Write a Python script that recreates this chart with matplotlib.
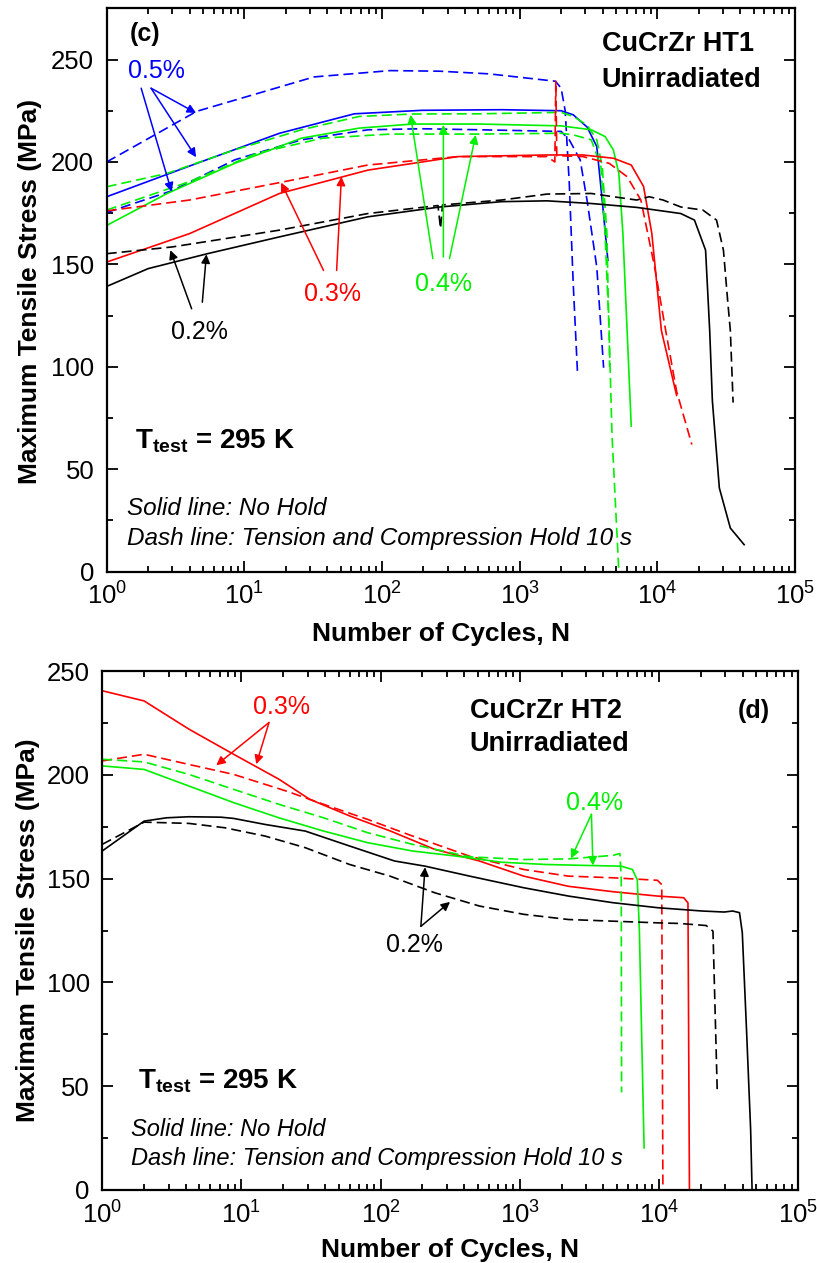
import matplotlib
matplotlib.use("Agg")
import matplotlib.pyplot as plt
from matplotlib.ticker import LogLocator, MultipleLocator, NullFormatter

plt.rcParams['font.family'] = ['Liberation Sans', 'DejaVu Sans']
plt.rcParams['mathtext.fontset'] = 'custom'
plt.rcParams['mathtext.rm'] = 'Liberation Sans'
plt.rcParams['mathtext.it'] = 'Liberation Sans:italic'
plt.rcParams['mathtext.bf'] = 'Liberation Sans:bold'

BLUE = '#0000ff'
RED = '#ff0000'
GREEN = '#00f000'
BLACK = '#000000'

# ---- panel (c): CuCrZr HT1 ----
c_blue_dash1_N = [1, 4.5, 32, 115, 263, 600, 1820, 2000, 2140, 2290, 2450, 2630]
c_blue_dash1_S = [200, 224.7, 241.5, 244.6, 244.3, 243, 239.4, 236, 225, 190, 140, 97]
c_blue_solid_N = [1, 4, 18, 63, 195, 740, 2000, 2450, 3090, 3630, 3980, 4370]
c_blue_solid_S = [183, 198, 214, 223.5, 225.2, 225.5, 225, 223, 217, 207.5, 181, 152]
c_blue_dash2_N = [1, 3, 8.5, 26, 79, 195, 510, 2000, 2290, 2750, 3090, 3630, 4070]
c_blue_dash2_S = [175.3, 186, 201, 210.8, 215.7, 216.2, 215.7, 214.9, 210.8, 201, 181, 148.7, 99.5]
c_green_dash1_N = [1, 2.75, 8.5, 26, 68, 166, 510, 2000, 2450, 3090, 3630, 3980, 4300, 4400, 4680, 5250]
c_green_dash1_S = [187.9, 194.4, 205.9, 215.7, 222.2, 223.4, 223.5, 224.2, 222.2, 218, 210.8, 197.7, 165, 132, 67, 0]
c_green_dash2_N = [1, 4, 12.3, 37, 115, 480, 2000, 2450, 3310, 3890, 4170, 4470, 4500]
c_green_dash2_S = [176.5, 190.4, 204.2, 211.6, 213.6, 213.6, 214, 213.2, 210.8, 197.7, 165, 117, 100]
c_green_solid_N = [1, 2.75, 8.5, 26, 68, 166, 510, 2000, 3310, 4170, 4790, 5250, 5620, 6030, 6460]
c_green_solid_S = [169, 184.6, 199.3, 211.6, 216.5, 218.5, 218.5, 217.6, 215.7, 212.4, 205.9, 194.4, 165, 117.6, 71]
c_red_dash_N = [1, 4, 18, 79, 355, 1580, 1800, 1830, 1860, 2000, 2880, 4470, 6030, 7590, 9550, 11500, 13800, 17800]
c_red_dash_S = [176.1, 181.4, 189.9, 198.5, 202.6, 202.6, 200, 239.4, 203, 203, 202.6, 199.3, 192.8, 181.4, 148.7, 117.6, 88, 62]
c_red_solid_N = [1, 4, 18, 79, 355, 1580, 2880, 4790, 6460, 7940, 9120, 10700, 13800]
c_red_solid_S = [151.1, 165, 184.6, 196, 202.6, 203.4, 203.4, 201.8, 198.5, 188, 165, 117.6, 86]
c_black_dash_N = [1, 3, 18, 79, 255, 266, 275, 740, 1580, 3310, 4790, 7080, 8710, 11000, 14800, 21400, 26900,
                  30200, 32400, 33900, 35500]
c_black_dash_S = [155.2, 158.5, 166.7, 174.8, 178.7, 167.5, 179, 181.4, 184.3, 184.6, 183, 181.4, 183, 181.4, 178,
                  176.5, 171.6, 156.9, 132.4, 117.6, 82.5]
c_black_solid_N = [1, 2, 5.4, 18, 79, 263, 740, 1580, 3310, 7080, 14800, 18600, 22400, 24000, 25100, 28200, 33900, 42700]
c_black_solid_S = [139.2, 147.9, 155.2, 163.4, 173.2, 178, 180.6, 181, 179.7, 177.8, 174.8, 171.6, 156.9, 117.6, 83.3, 40.8, 21.2, 13.1]

# ---- panel (d): CuCrZr HT2 ----
d_red_solid_N = [1, 2, 4.2, 8.8, 18.6, 31, 60, 117, 245, 513, 1070, 2240, 4680, 9770, 15100, 16200, 16600]
d_red_solid_S = [240.5, 235.6, 222, 209.9, 197.9, 188.2, 180.2, 173, 164.1, 158.5, 151.2, 146.3, 143.7, 141.6, 140.8, 138.3, 0]
d_red_dash_N = [1, 2, 4.2, 8.8, 21, 39, 81, 170, 437, 1070, 2240, 4680, 9770, 10500, 10700]
d_red_dash_S = [206.7, 209.9, 205, 200.2, 192.2, 185.8, 178.5, 170.5, 160.8, 154.4, 151.2, 150.4, 149.2, 147.1, 0]
d_green_solid_N = [1, 2, 4.2, 8.8, 18.6, 39, 81, 170, 355, 741, 1550, 3240, 5370, 6460, 7000, 7250, 7840]
d_green_solid_S = [204.3, 202.6, 194.6, 186.6, 179.3, 172.9, 167.3, 163.3, 160.8, 157.9, 156.8, 156.3, 156, 154.4, 149.5, 125, 20.3]
d_green_dash_N = [1, 2, 4.2, 8.8, 18.6, 39, 81, 170, 437, 1070, 2240, 4680, 5250, 5370, 5400]
d_green_dash_S = [207.5, 206.2, 200.2, 193, 185.8, 179.3, 172.1, 166.5, 160.5, 159.2, 159.5, 161.2, 162.1, 150, 47]
d_black_solid_N = [1, 2, 2.9, 4.2, 7.1, 8.8, 14.8, 28.8, 60, 126, 209, 437, 1070, 2240, 4680, 9770,
                   20400, 29500, 33900, 38000, 39800, 42700, 45700, 46800]
d_black_solid_S = [163.3, 177.7, 179.3, 179.8, 179.6, 179, 176.1, 172.9, 165.7, 158.5, 156, 151.2, 145.6, 141.6, 138.4, 136,
                   134.4, 133.9, 134.4, 133.6, 124, 77, 29, 0]
d_black_dash_N = [1, 2, 2.9, 4.2, 7.6, 14.8, 28.8, 60, 117, 245, 513, 1070, 2240, 4680, 9770, 14100, 21900, 24500, 26300]
d_black_dash_S = [166.5, 177.2, 176.9, 176.6, 174.5, 170.5, 164.9, 156.8, 151.2, 143.2, 136.8, 132.8, 130.3, 129.5, 128.7,
                  128.4, 127.4, 124.7, 47.5]

DASH = (6, 3)


def setup_axes(ax, ymax, ylabel, xlab_xy, ylab_xy):
    ax.set_xscale('log')
    ax.set_xlim(1, 1e5)
    ax.set_ylim(0, ymax)
    ax.xaxis.set_major_locator(LogLocator(base=10, numticks=10))
    ax.xaxis.set_minor_locator(LogLocator(base=10, subs=range(2, 10), numticks=20))
    ax.xaxis.set_minor_formatter(NullFormatter())
    ax.yaxis.set_major_locator(MultipleLocator(50))
    ax.yaxis.set_minor_locator(MultipleLocator(25))
    ax.tick_params(which='both', direction='in', top=True, right=True, labelsize=18.5, width=1.3)
    ax.tick_params(which='major', length=8)
    ax.tick_params(which='minor', length=4)
    ax.tick_params(axis='x', which='major', pad=8)
    ax.tick_params(axis='y', which='major', pad=9)
    for s in ax.spines.values():
        s.set_linewidth(1.6)
    ax.set_xlabel('Number of Cycles, N', fontsize=19, fontweight='bold')
    ax.set_ylabel(ylabel, fontsize=19, fontweight='bold')
    ax.xaxis.set_label_coords(*xlab_xy)
    ax.yaxis.set_label_coords(*ylab_xy)


def arrow(ax, start, end, color):
    ax.annotate('', xy=end, xytext=start,
                arrowprops=dict(arrowstyle='-|>', color=color, lw=1.1, mutation_scale=13,
                                shrinkA=0, shrinkB=0))


fig = plt.figure(figsize=(8.17, 12.63), dpi=100)

# ---------------- panel (c) ----------------
ax1 = fig.add_axes([0.1306, 0.5475, 0.8425, 0.4459])
ax1.plot(c_blue_dash1_N, c_blue_dash1_S, color=BLUE, lw=1.2, dashes=DASH)
ax1.plot(c_blue_dash2_N, c_blue_dash2_S, color=BLUE, lw=1.2, dashes=DASH)
ax1.plot(c_blue_solid_N, c_blue_solid_S, color=BLUE, lw=1.2)
ax1.plot(c_green_dash1_N, c_green_dash1_S, color=GREEN, lw=1.2, dashes=DASH)
ax1.plot(c_green_dash2_N, c_green_dash2_S, color=GREEN, lw=1.2, dashes=DASH)
ax1.plot(c_green_solid_N, c_green_solid_S, color=GREEN, lw=1.2)
ax1.plot(c_red_dash_N, c_red_dash_S, color=RED, lw=1.2, dashes=DASH)
ax1.plot(c_red_solid_N, c_red_solid_S, color=RED, lw=1.2)
ax1.plot(c_black_dash_N, c_black_dash_S, color=BLACK, lw=1.2, dashes=DASH)
ax1.plot(c_black_solid_N, c_black_solid_S, color=BLACK, lw=1.2)
setup_axes(ax1, 275, 'Maximum Tensile Stress (MPa)', (0.485, -0.09), (-0.094, 0.497))

ax1.text(1.89, 262.3, '(c)', fontsize=18, fontweight='bold', ha='center', va='center')
ax1.text(3930, 257.4, 'CuCrZr HT1', fontsize=19.5, fontweight='bold', ha='left', va='center')
ax1.text(3930, 240.2, 'Unirradiated', fontsize=19.5, fontweight='bold', ha='left', va='center')

ax1.text(2.3, 244.3, '0.5%', fontsize=18, color=BLUE, ha='center', va='center')
arrow(ax1, (2.1, 236), (4.46, 223.9), BLUE)
arrow(ax1, (2.1, 236), (4.46, 202.3), BLUE)
arrow(ax1, (1.78, 236), (2.96, 185.5), BLUE)

ax1.text(43.7, 135.6, '0.3%', fontsize=18, color=RED, ha='center', va='center')
arrow(ax1, (37.6, 147), (18.5, 189.9), RED)
arrow(ax1, (46.8, 147), (50.7, 192.8), RED)

ax1.text(279, 140.5, '0.4%', fontsize=18, color=GREEN, ha='center', va='center')
arrow(ax1, (234, 152.8), (161, 223), GREEN)
arrow(ax1, (279, 153.6), (279, 218.1), GREEN)
arrow(ax1, (309, 152.8), (479, 213.2), GREEN)

ax1.text(4.7, 117, '0.2%', fontsize=18, color=BLACK, ha='center', va='center')
arrow(ax1, (4.14, 128.3), (2.9, 156.9), BLACK)
arrow(ax1, (4.95, 131.5), (5.3, 154.9), BLACK)

ax1.text(1.6, 63.7, r'T$_{\mathbf{test}}$ = 295 K', fontsize=20, fontweight='bold', ha='left', va='center')
ax1.text(1.4, 31, 'Solid line: No Hold', fontsize=17.5, style='italic', ha='left', va='center')
ax1.text(1.4, 16.3, 'Dash line: Tension and Compression Hold 10 s', fontsize=17.5, style='italic',
         ha='left', va='center')

# ---------------- panel (d) ----------------
ax2 = fig.add_axes([0.1251, 0.0578, 0.8516, 0.4109])
ax2.plot(d_red_solid_N, d_red_solid_S, color=RED, lw=1.2)
ax2.plot(d_red_dash_N, d_red_dash_S, color=RED, lw=1.2, dashes=DASH)
ax2.plot(d_green_solid_N, d_green_solid_S, color=GREEN, lw=1.2)
ax2.plot(d_green_dash_N, d_green_dash_S, color=GREEN, lw=1.2, dashes=DASH)
ax2.plot(d_black_solid_N, d_black_solid_S, color=BLACK, lw=1.2)
ax2.plot(d_black_dash_N, d_black_dash_S, color=BLACK, lw=1.2, dashes=DASH)
setup_axes(ax2, 250, 'Maximam Tensile Stress (MPa)', (0.5, -0.092), (-0.089, 0.5))

ax2.text(19.5, 232.5, '0.3%', fontsize=18, color=RED, ha='center', va='center')
arrow(ax2, (15.8, 225.2), (6.6, 204.6), RED)
arrow(ax2, (15.8, 225.2), (12.8, 205.1), RED)

ax2.text(437, 230.8, 'CuCrZr HT2', fontsize=19.5, fontweight='bold', ha='left', va='center')
ax2.text(437, 214.8, 'Unirradiated', fontsize=19.5, fontweight='bold', ha='left', va='center')
ax2.text(47900, 230.8, '(d)', fontsize=18, fontweight='bold', ha='center', va='center')

ax2.text(3470, 186.6, '0.4%', fontsize=18, color=GREEN, ha='center', va='center')
arrow(ax2, (3280, 181), (2340, 159.7), GREEN)
arrow(ax2, (3280, 181), (3360, 156.3), GREEN)

ax2.text(174, 118.2, '0.2%', fontsize=18, color=BLACK, ha='center', va='center')
arrow(ax2, (195, 127), (209, 155.5), BLACK)
arrow(ax2, (195, 127), (316, 138.8), BLACK)

ax2.text(1.8, 52.3, r'T$_{\mathbf{test}}$ = 295 K', fontsize=20, fontweight='bold', ha='left', va='center')
ax2.text(1.6, 29.3, 'Solid line: No Hold', fontsize=17, style='italic', ha='left', va='center')
ax2.text(1.6, 15.3, 'Dash line: Tension and Compression Hold 10 s', fontsize=17, style='italic',
         ha='left', va='center')

fig.savefig('out.png', dpi=100)
